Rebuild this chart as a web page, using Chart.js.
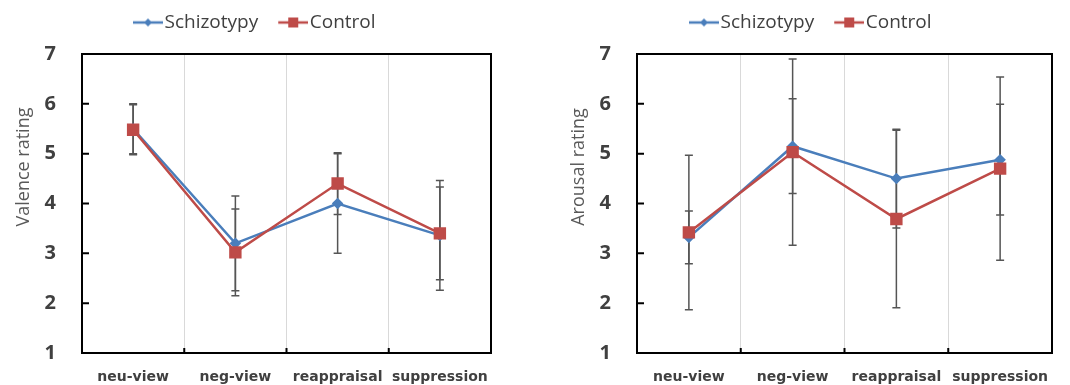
<!DOCTYPE html>
<html>
<head>
<meta charset="utf-8">
<script src="https://cdn.jsdelivr.net/npm/chart.js@4/dist/chart.umd.min.js"></script>
<style>
  body { margin: 0; background: #fff; overflow: hidden; }
  canvas { position: absolute; top: 0; }
  #valenceChart { left: 0; }
  #arousalChart { left: 555px; }
</style>
</head>
<body>
<canvas id="valenceChart" width="555" height="385"></canvas>
<canvas id="arousalChart" width="515" height="385"></canvas>
<script>
const categories = ["neu-view", "neg-view", "reappraisal", "suppression"];
const seriesNames = ["Schizotypy", "Control"];
const yMin = 1;
const yMax = 7;

// valence (left panel)
const valenceSchizo = [5.5, 3.2, 4.0, 3.36];
const valenceSchizoErr = [0.5, 0.95, 1.0, 1.1];
const valenceControl = [5.48, 3.02, 4.4, 3.4];
const valenceControlErr = [0.5, 0.87, 0.62, 0.93];

// arousal (right panel)
const arousalSchizo = [3.32, 5.15, 4.5, 4.88];
const arousalSchizoErr = [0.53, 0.95, 0.99, 1.11];
const arousalControl = [3.42, 5.03, 3.69, 4.7];
const arousalControlErr = [1.55, 1.87, 1.78, 1.84];

const BLUE = "#4a7ebb";
const RED = "#be4b48";
const TEXT = "#404040";

// legend symbol: short line with marker in the middle
function legendIcon(color, shape) {
  const c = document.createElement("canvas");
  c.width = 38;
  c.height = 14;
  const g = c.getContext("2d");
  g.strokeStyle = color;
  g.lineWidth = 2.5;
  g.beginPath();
  g.moveTo(8, 7);
  g.lineTo(38, 7);
  g.stroke();
  g.fillStyle = color;
  if (shape === "diamond") {
    g.beginPath();
    g.moveTo(23, 3);
    g.lineTo(27, 7);
    g.lineTo(23, 11);
    g.lineTo(19, 7);
    g.closePath();
    g.fill();
  } else {
    g.fillRect(18, 2, 10, 10);
  }
  return c;
}
const icons = [legendIcon(BLUE, "diamond"), legendIcon(RED, "square")];

const errorBars = {
  id: "errorBars",
  beforeDatasetsDraw(chart) {
    const { ctx, scales } = chart;
    ctx.save();
    ctx.strokeStyle = "#555";
    ctx.lineWidth = 1.5;
    chart.data.datasets.forEach((ds) => {
      ds.errors.forEach((e, j) => {
        const px = scales.x.getPixelForValue(j);
        const top = scales.y.getPixelForValue(ds.data[j] + e);
        const bot = scales.y.getPixelForValue(ds.data[j] - e);
        ctx.beginPath();
        ctx.moveTo(px, top);
        ctx.lineTo(px, bot);
        ctx.moveTo(px - 4, top);
        ctx.lineTo(px + 4, top);
        ctx.moveTo(px - 4, bot);
        ctx.lineTo(px + 4, bot);
        ctx.stroke();
      });
    });
    ctx.restore();
  },
};

const frame = {
  id: "frame",
  beforeLayout(chart) {
    const lg = chart.legend;
    if (lg && !lg._fixed) {
      const fit = lg.fit;
      lg.fit = function () {
        fit.call(this);
        this.height = 54;
      };
      lg._fixed = true;
    }
  },
  afterLayout(chart, args, opts) {
    const lg = chart.legend;
    lg.left = opts.legendLeft;
    lg.top = -7;
  },
  beforeDatasetsDraw(chart, args, opts) {
    const { ctx, chartArea: a, scales } = chart;
    ctx.save();
    ctx.strokeStyle = "#000";
    ctx.lineWidth = 2;
    ctx.strokeRect(a.left, a.top, a.right - a.left, a.bottom - a.top);
    ctx.beginPath();
    scales.y.ticks.forEach((t) => {
      const py = scales.y.getPixelForValue(t.value);
      ctx.moveTo(a.left, py);
      ctx.lineTo(a.left + 7, py);
    });
    for (let j = 1; j < categories.length; j++) {
      const px = (scales.x.getPixelForValue(j - 1) + scales.x.getPixelForValue(j)) / 2;
      ctx.moveTo(px, a.bottom);
      ctx.lineTo(px, a.bottom - 5);
    }
    ctx.stroke();
    // y axis title
    ctx.fillStyle = "#595959";
    ctx.font = "18px 'Open Sans'";
    ctx.textAlign = "center";
    ctx.textBaseline = "middle";
    ctx.translate(opts.titleX, opts.titleY);
    ctx.rotate(-Math.PI / 2);
    ctx.fillText(opts.title, 0, 0);
    ctx.restore();
  },
};

function makeChart(id, schizo, schizoErr, control, controlErr, title, rightPad, legendLeft) {
  const ctx = document.getElementById(id).getContext("2d");
  return new Chart(ctx, {
    type: "line",
    data: {
      labels: categories,
      datasets: [
        {
          label: seriesNames[0],
          data: schizo,
          errors: schizoErr,
          borderColor: BLUE,
          backgroundColor: BLUE,
          borderWidth: 2.5,
          pointStyle: "rectRot",
          pointRadius: 4,
          pointHoverRadius: 4,
          order: 1,
        },
        {
          label: seriesNames[1],
          data: control,
          errors: controlErr,
          borderColor: RED,
          backgroundColor: RED,
          borderWidth: 2.5,
          pointStyle: "rect",
          pointRadius: 7,
          pointHoverRadius: 7,
          order: 0,
        },
      ],
    },
    options: {
      responsive: false,
      animation: false,
      layout: { padding: { left: 0, right: rightPad, top: 0, bottom: 0 } },
      plugins: {
        tooltip: { enabled: false },
        legend: {
          position: "top",
          align: "start",
          labels: {
            usePointStyle: true,
            pointStyleWidth: 22,
            padding: 20,
            color: TEXT,
            font: { family: "'Open Sans'", size: 19 },
            sort: (a, b) => a.datasetIndex - b.datasetIndex,
            generateLabels(chart) {
              const items = Chart.defaults.plugins.legend.labels.generateLabels(chart);
              items.forEach((it) => (it.pointStyle = icons[it.datasetIndex]));
              return items;
            },
          },
        },
        frame: { title: title, titleX: 24, titleY: 167, legendLeft: legendLeft },
      },
      scales: {
        x: {
          offset: true,
          grid: { display: true, offset: true, color: "#d9d9d9", lineWidth: 1, drawTicks: false },
          border: { display: false },
          ticks: {
            padding: 16,
            color: TEXT,
            font: { family: "'DejaVu Sans'", size: 14, weight: "bold" },
          },
          afterFit(scale) {
            scale.height = 32;
          },
        },
        y: {
          min: yMin,
          max: yMax,
          grid: { display: false, drawTicks: true, tickLength: 20 },
          border: { display: false },
          ticks: {
            stepSize: 1,
            padding: 6,
            color: TEXT,
            font: { family: "'Open Sans'", size: 20, weight: "bold" },
          },
          afterFit(scale) {
            scale.width = 82;
          },
        },
      },
    },
    plugins: [errorBars, frame],
  });
}

makeChart("valenceChart", valenceSchizo, valenceSchizoErr, valenceControl, valenceControlErr,
  "Valence rating", 64, 113);
makeChart("arousalChart", arousalSchizo, arousalSchizoErr, arousalControl, arousalControlErr,
  "Arousal rating", 18, 114);
</script>
</body>
</html>
